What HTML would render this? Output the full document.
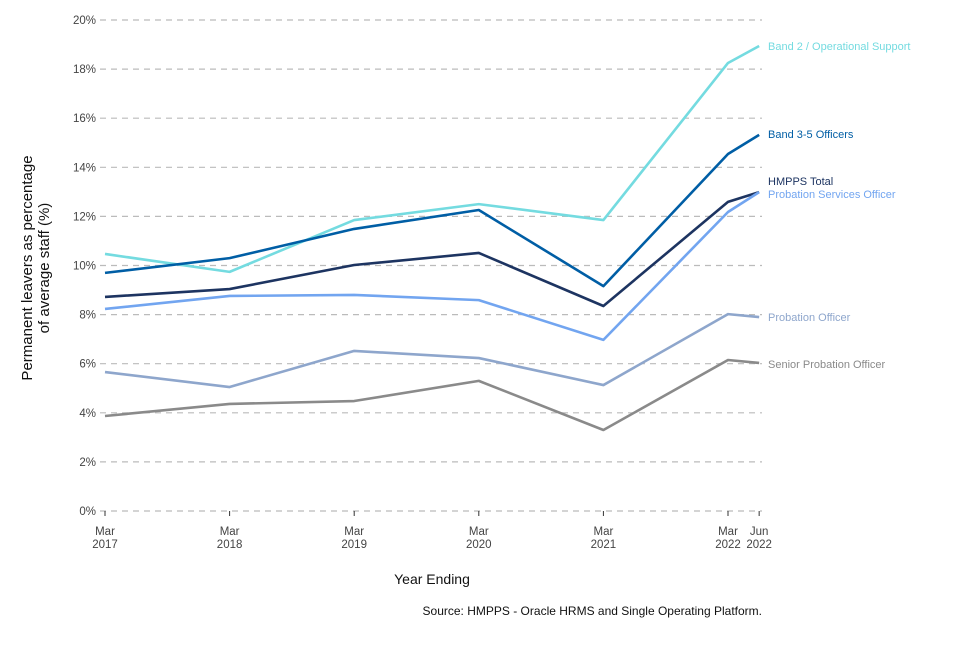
<!DOCTYPE html>
<html><head><meta charset="utf-8"><style>
body{margin:0;background:#fff;font-family:"Liberation Sans",sans-serif}
svg text{font-family:"Liberation Sans",sans-serif}
</style></head><body>
<svg id="chart" width="960" height="640" viewBox="0 0 960 640"></svg>
<script>
const dates=[2017,2018,2019,2020,2021,2022,2022.25];
const xTickLabels=[["Mar","2017"],["Mar","2018"],["Mar","2019"],["Mar","2020"],["Mar","2021"],["Mar","2022"],["Jun","2022"]];
const yTicks=[0,2,4,6,8,10,12,14,16,18,20];
const seriesNames=["Band 2 / Operational Support","Band 3-5 Officers","HMPPS Total","Probation Services Officer","Probation Officer","Senior Probation Officer"];
const band2=[10.47,9.74,11.85,12.5,11.85,18.25,18.94];
const band35=[9.7,10.3,11.49,12.26,9.16,14.54,15.32];
const hmpps=[8.72,9.04,10.02,10.51,8.35,12.59,12.99];
const pso=[8.23,8.76,8.8,8.59,6.97,12.18,12.99];
const po=[5.66,5.05,6.52,6.23,5.13,8.02,7.9];
const spo=[3.87,4.36,4.48,5.3,3.3,6.15,6.03];
const seriesValues=[band2,band35,hmpps,pso,po,spo];
const colors=["#74dbe0","#005ea5","#1d3461","#72a5f0","#8ea6cc","#8a8a8a"];
const labelY=[46,134,181,194,317,364];
const svg=document.getElementById('chart');
const NS="http://www.w3.org/2000/svg";
const x=d=>105+(d-2017)*124.6;
const y=v=>511-v*24.55;
function mk(t,a,p){const e=document.createElementNS(NS,t);for(const k in a)e.setAttribute(k,a[k]);(p||svg).appendChild(e);return e;}
yTicks.forEach(v=>{
  const l=mk('line',{x1:100,x2:762,y1:y(v),y2:y(v),stroke:'#bbb','stroke-width':1.2,'stroke-dasharray':'6,5'});
  
  
  const t=mk('text',{x:96,y:y(v)+4,'text-anchor':'end','font-size':11.5,fill:'#444'});
  t.textContent=v+'%';
  
  
});
dates.forEach((d,i)=>{
  const tk=mk('line',{x1:x(d),x2:x(d),y1:511,y2:516,stroke:'#333'});
  
  
  xTickLabels[i].forEach((s,j)=>{
    const t=mk('text',{x:x(d),y:535+j*13,'text-anchor':'middle','font-size':11.5,fill:'#444'});
    t.textContent=s;
    
    
  });
});
seriesValues.forEach((vals,i)=>{
  const p=mk('polyline',{points:vals.map((v,k)=>x(dates[k])+','+y(v)).join(' '),fill:'none',stroke:colors[i],'stroke-width':2.6,'stroke-linejoin':'round'});
  
  
  const t=mk('text',{x:768,y:labelY[i]+4,'font-size':11,fill:colors[i]});
  t.textContent=seriesNames[i];
  
  
});
const yt=mk('text',{transform:'translate(40,268) rotate(-90)','text-anchor':'middle','font-size':15,fill:'#111'});


const t1=mk('tspan',{x:0,dy:-8},yt);t1.textContent='Permanent leavers as percentage';
const t2=mk('tspan',{x:0,dy:17},yt);t2.textContent='of average staff (%)';
const xt=mk('text',{x:432,y:584,'text-anchor':'middle','font-size':14,fill:'#111'});
xt.textContent='Year Ending';


const src=mk('text',{x:762,y:615,'text-anchor':'end','font-size':12,fill:'#111'});
src.textContent='Source: HMPPS - Oracle HRMS and Single Operating Platform.';


</script>
</body></html>
